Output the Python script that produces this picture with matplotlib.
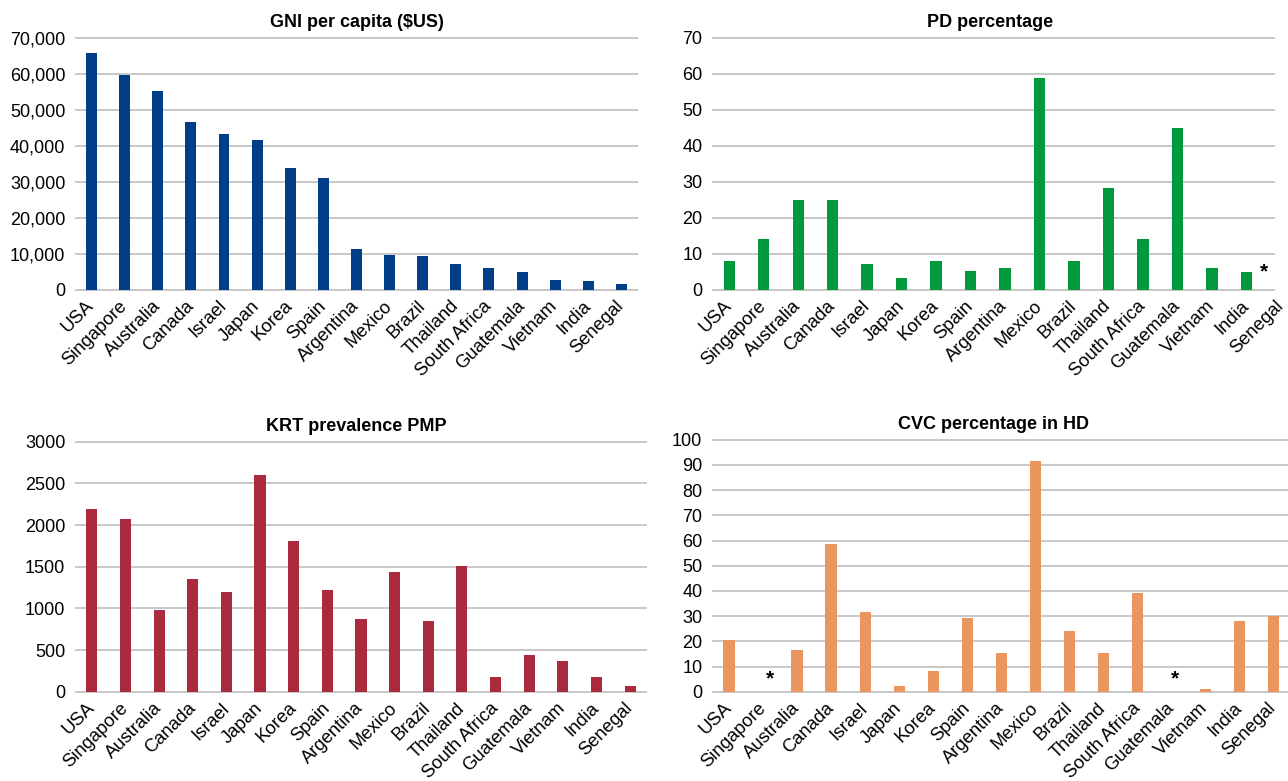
import numpy as np
import matplotlib
matplotlib.use('Agg')
import matplotlib.pyplot as plt
from matplotlib.ticker import FuncFormatter
from matplotlib.transforms import ScaledTranslation

countries = ['USA', 'Singapore', 'Australia', 'Canada', 'Israel', 'Japan', 'Korea',
             'Spain', 'Argentina', 'Mexico', 'Brazil', 'Thailand', 'South Africa',
             'Guatemala', 'Vietnam', 'India', 'Senegal']

gni = [65760, 59540, 55190, 46480, 43150, 41480, 33700, 30930, 11200, 9540,
       9260, 7040, 5930, 4810, 2590, 2310, 1480]
pd_pct = [8, 14, 25, 25, 7, 3.1, 8, 5.1, 6, 58.7, 8, 28.1, 14, 44.8, 6, 5, np.nan]
krt = [2194, 2075, 985, 1356, 1201, 2601, 1811, 1225, 878, 1440, 854, 1512,
       172, 435, 363, 172, 64]
cvc = [20.5, np.nan, 16.4, 58.8, 31.8, 2.1, 8.1, 29.1, 15.2, 91.7, 23.9, 15.2,
       39.0, np.nan, 0.9, 27.9, 30.2]


def draw_panel(fig, ax, values, color, title, ymax, ystep, fmt, grid_end=16.5,
               title_x=0.5):
    x = np.arange(len(countries))
    yticks = np.arange(0, ymax + ystep, ystep)
    ax.hlines(yticks, -0.5, grid_end, colors='#c4c4c4', linewidth=1.3, zorder=0,
              clip_on=False)
    ax.bar(x, values, width=0.33, color=color, zorder=2)
    ax.set_xlim(-0.5, 16.5)
    ax.set_ylim(0, ymax)
    ax.set_yticks(yticks)
    ax.yaxis.set_major_formatter(FuncFormatter(fmt))
    ax.set_xticks(x)
    ax.set_xticklabels(countries, rotation=45, ha='right', va='center',
                       rotation_mode='anchor', fontsize=13.2)
    # nudge the slanted labels a little to the right
    shift = ScaledTranslation(4 / 72, 0, fig.dpi_scale_trans)
    for lab in ax.get_xticklabels():
        lab.set_transform(lab.get_transform() + shift)
    ax.tick_params(axis='x', length=0, pad=10)
    ax.tick_params(axis='y', length=0, pad=7, labelsize=13)
    for s in ax.spines.values():
        s.set_visible(False)
    ax.set_title(title, fontsize=13, fontweight='bold', pad=8, x=title_x)


def main():
    plt.rcParams['font.family'] = ['Liberation Sans', 'DejaVu Sans']
    fig = plt.figure(figsize=(12.88, 7.81), dpi=100)

    ax1 = fig.add_axes([0.0582, 0.6293, 0.4371, 0.3224])
    ax2 = fig.add_axes([0.5528, 0.6293, 0.4550, 0.3224])
    ax3 = fig.add_axes([0.0582, 0.1143, 0.4441, 0.3201])
    ax4 = fig.add_axes([0.5528, 0.1143, 0.4491, 0.3227])

    draw_panel(fig, ax1, gni, '#003f87', 'GNI per capita ($US)', 70000, 10000,
               lambda v, p: '{:,.0f}'.format(v))
    draw_panel(fig, ax2, pd_pct, '#009a3d', 'PD percentage', 70, 10,
               lambda v, p: '{:.0f}'.format(v), grid_end=15.83, title_x=0.474)
    draw_panel(fig, ax3, krt, '#aa2a3e', 'KRT prevalence PMP', 3000, 500,
               lambda v, p: '{:.0f}'.format(v), title_x=0.491)
    draw_panel(fig, ax4, cvc, '#e9975f', 'CVC percentage in HD', 100, 10,
               lambda v, p: '{:.0f}'.format(v), title_x=0.486)

    # no data markers
    ax2.text(15.5, 4.8, '*', ha='center', va='center', fontsize=15,
             fontweight='bold')
    ax4.text(1.2, 5.2, '*', ha='center', va='center', fontsize=15,
             fontweight='bold')
    ax4.text(13.1, 5.2, '*', ha='center', va='center', fontsize=15,
             fontweight='bold')

    fig.savefig('out.png', dpi=100)


if __name__ == '__main__': main()
